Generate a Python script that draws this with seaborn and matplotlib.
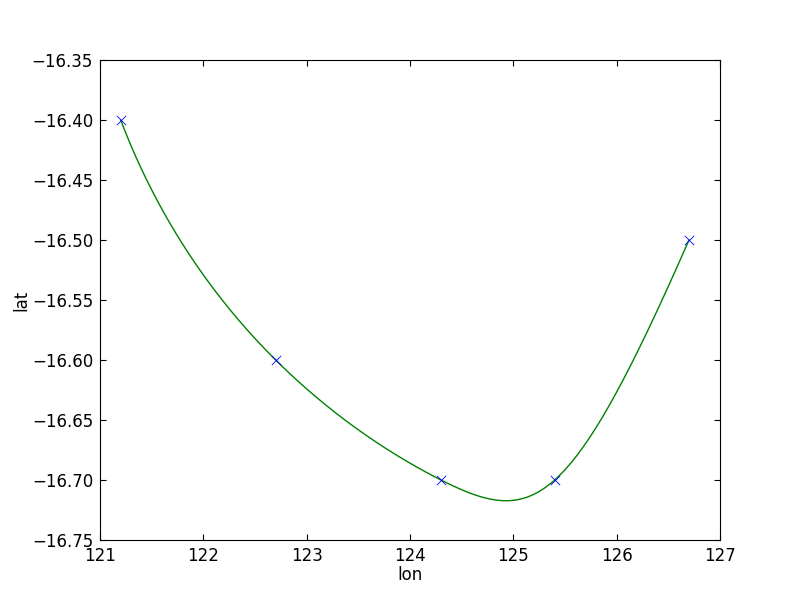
import numpy as np
import matplotlib
matplotlib.use("Agg")
import matplotlib.pyplot as plt
import seaborn as sns
import pandas as pd

lon = [121.2, 122.7, 124.3, 125.4, 126.7]
lat = [-16.4, -16.6, -16.7, -16.7, -16.5]

def nak_spline(x, y, xs):
    # not-a-knot cubic interpolating spline
    x = np.asarray(x, float); y = np.asarray(y, float)
    n = len(x) - 1
    h = np.diff(x)
    C = []; b = []
    for i in range(n):
        row = np.zeros(4*n); row[4*i] = 1; C.append(row); b.append(y[i])
        row = np.zeros(4*n); row[4*i:4*i+4] = [1, h[i], h[i]**2, h[i]**3]; C.append(row); b.append(y[i+1])
    for i in range(n - 1):
        row = np.zeros(4*n); row[4*i:4*i+4] = [0, 1, 2*h[i], 3*h[i]**2]; row[4*(i+1)+1] = -1; C.append(row); b.append(0)
        row = np.zeros(4*n); row[4*i:4*i+4] = [0, 0, 2, 6*h[i]]; row[4*(i+1)+2] = -2; C.append(row); b.append(0)
    row = np.zeros(4*n); row[3] = 1; row[7] = -1; C.append(row); b.append(0)
    row = np.zeros(4*n); row[4*(n-2)+3] = 1; row[4*(n-1)+3] = -1; C.append(row); b.append(0)
    c = np.linalg.solve(np.array(C), np.array(b)).reshape(n, 4)
    idx = np.clip(np.searchsorted(x, xs, side="right") - 1, 0, n - 1)
    t = xs - x[idx]
    return c[idx, 0] + c[idx, 1]*t + c[idx, 2]*t**2 + c[idx, 3]*t**3

# parametric spline through the track points (uniform parameter)
u = np.arange(len(lon), dtype=float)
uu = np.linspace(u[0], u[-1], 600)
xs = nak_spline(u, lon, uu)
ys = nak_spline(u, lat, uu)

plt.rcParams['font.family'] = ['DejaVu Sans']
fig = plt.figure(figsize=(8, 6), dpi=100)
ax = fig.add_axes([0.125, 0.1, 0.775, 0.8])

df_pts = pd.DataFrame({"lon": lon, "lat": lat})
df_curve = pd.DataFrame({"lon": xs, "lat": ys})

sns.lineplot(data=df_curve, x="lon", y="lat", ax=ax, color="green", linewidth=1, sort=False)
sns.scatterplot(data=df_pts, x="lon", y="lat", ax=ax, marker="x", color="blue",
                s=45, linewidth=0.6, zorder=3)

ax.set_xlim(121, 127)
ax.set_ylim(-16.75, -16.35)
ax.set_xticks(np.arange(121, 127.01, 1))
ax.set_yticks(np.arange(-16.75, -16.349, 0.05))
ax.yaxis.set_major_formatter(matplotlib.ticker.FuncFormatter(lambda v, p: ("%.2f" % v).replace("-", "\u2212")))
ax.tick_params(direction="in", top=True, right=True, labelsize=12, length=4, pad=5)
ax.set_xlabel("lon", fontsize=12, labelpad=1)
ax.set_ylabel("lat", fontsize=12, labelpad=1)
for s in ax.spines.values():
    s.set_color("black")

fig.savefig("out.png", dpi=100, facecolor="white")
